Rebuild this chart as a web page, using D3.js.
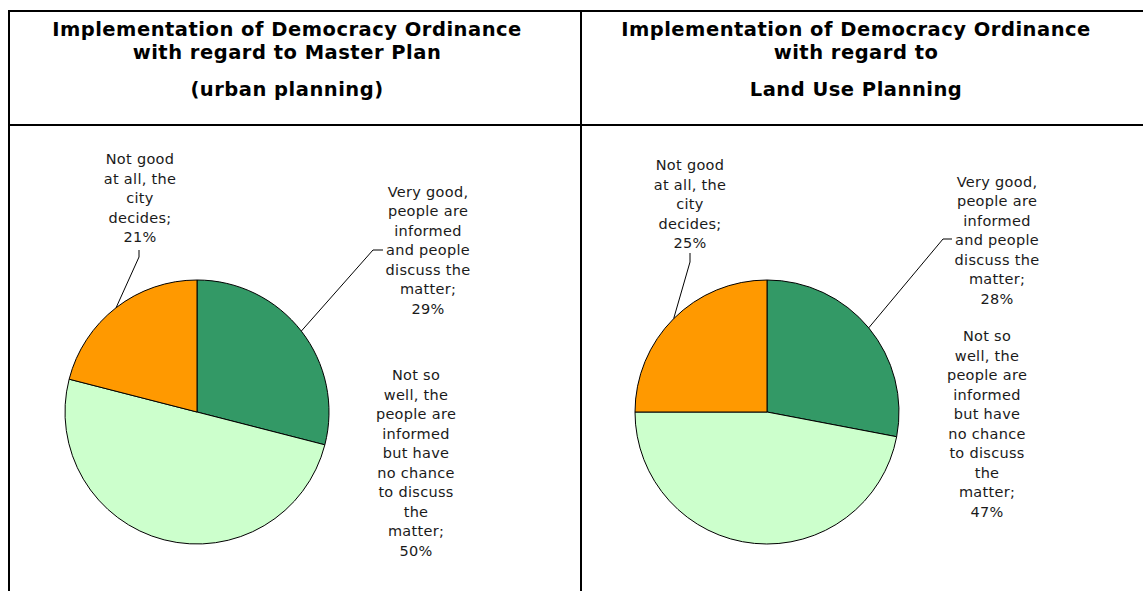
<!DOCTYPE html>
<html>
<head>
<meta charset="utf-8">
<script src="https://cdn.jsdelivr.net/npm/d3@7"></script>
<style>
  html, body { margin: 0; padding: 0; background: #ffffff; }
  svg { display: block; }
  .title { font-family: Verdana, "DejaVu Sans", sans-serif; font-weight: bold; font-size: 19.5px; fill: #000; letter-spacing: 0.5px; }
  .lbl { font-family: Verdana, "DejaVu Sans", sans-serif; font-size: 14.5px; fill: #1a1a1a; letter-spacing: 0.3px; }
</style>
</head>
<body>
<svg id="chart" width="1143" height="591"></svg>
<script>
// Survey answers on how the Democracy Ordinance is implemented
const categories = [
  "Very good, people are informed and people discuss the matter",
  "Not so well, the people are informed but have no chance to discuss the matter",
  "Not good at all, the city decides"
];
// wrapped label text for each answer
const labelLines = [
  ["Very good,", "people are", "informed", "and people", "discuss the", "matter;"],
  ["Not so", "well, the", "people are", "informed", "but have", "no chance", "to discuss", "the", "matter;"],
  ["Not good", "at all, the", "city", "decides;"]
];
const masterPlanValues = [29, 50, 21];
const landUseValues = [28, 47, 25];
const masterPlanTitle = ["Implementation of Democracy Ordinance", "with regard to Master Plan", "(urban planning)"];
const landUseTitle = ["Implementation of Democracy Ordinance", "with regard to", "Land Use Planning"];
const colors = ["#339966", "#CCFFCC", "#FF9900"];

const svg = d3.select("#chart");
const lineH = 19.5;

// table frame
const frame = svg.append("g").attr("stroke", "#000").attr("stroke-width", 2);
frame.append("line").attr("x1", 8).attr("x2", 1143).attr("y1", 11).attr("y2", 11);
frame.append("line").attr("x1", 8).attr("x2", 1143).attr("y1", 125).attr("y2", 125);
frame.append("line").attr("x1", 9).attr("x2", 9).attr("y1", 10).attr("y2", 591);
frame.append("line").attr("x1", 581).attr("x2", 581).attr("y1", 10).attr("y2", 591);

// layout of each panel: title centre, pie centre, label anchors, leader lines
const panels = [
  {
    title: masterPlanTitle, values: masterPlanValues,
    titleX: 287, cx: 197, cy: 412, r: 132,
    labels: [
      { x: 428, y: 250, leader: { elbow: [373, 250], end: [383, 250] } },
      { x: 416, y: 375 + 4.5 * lineH, leader: null },
      { x: 140, y: 159 + 2 * lineH, leader: { elbow: [139, 257], end: [139, 250] } }
    ]
  },
  {
    title: landUseTitle, values: landUseValues,
    titleX: 856, cx: 767, cy: 412, r: 132,
    labels: [
      { x: 997, y: 240, leader: { elbow: [943, 239], end: [952, 239] } },
      { x: 987, y: 336 + 4.5 * lineH, leader: null },
      { x: 690, y: 165 + 2 * lineH, leader: { elbow: [690, 262], end: [690, 253] } }
    ]
  }
];

const pie = d3.pie().sort(null).value(d => d);

panels.forEach(p => {
  // title
  const tBase = [36, 59, 96];
  svg.append("g").selectAll("text").data(p.title).join("text")
    .attr("class", "title")
    .attr("x", p.titleX).attr("y", (d, i) => tBase[i])
    .attr("text-anchor", "middle")
    .text(d => d);

  const arcs = pie(p.values);
  const arc = d3.arc().innerRadius(0).outerRadius(p.r);
  const g = svg.append("g").attr("transform", `translate(${p.cx},${p.cy})`);
  g.selectAll("path").data(arcs).join("path")
    .attr("d", arc)
    .attr("fill", (d, i) => colors[i])
    .attr("stroke", "#000")
    .attr("stroke-width", 1);

  // labels with optional leader lines
  arcs.forEach((a, i) => {
    const L = p.labels[i];
    const lines = labelLines[i].concat([a.data + "%"]);
    const top = L.y - (lines.length - 1) * lineH / 2;
    svg.append("g").selectAll("text").data(lines).join("text")
      .attr("class", "lbl")
      .attr("x", L.x)
      .attr("y", (d, k) => top + k * lineH)
      .attr("dy", "0.35em")
      .attr("text-anchor", "middle")
      .text(d => d);
    if (L.leader) {
      const mid = (a.startAngle + a.endAngle) / 2;
      const px = p.cx + p.r * Math.sin(mid);
      const py = p.cy - p.r * Math.cos(mid);
      svg.append("path")
        .attr("d", d3.line()([[px, py], L.leader.elbow, L.leader.end]))
        .attr("fill", "none")
        .attr("stroke", "#000")
        .attr("stroke-width", 1);
    }
  });
});
</script>
</body>
</html>
